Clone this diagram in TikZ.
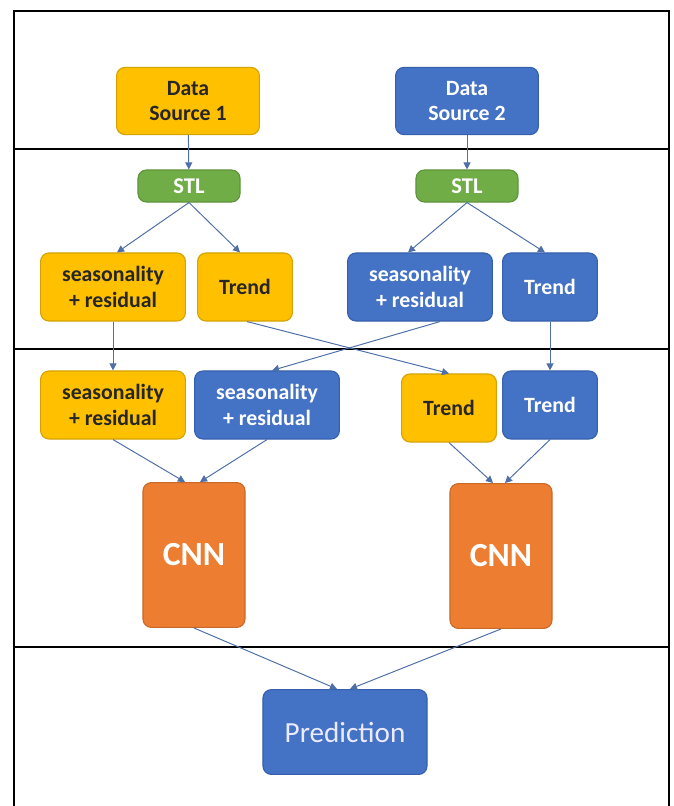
\documentclass[tikz,border=0pt]{standalone}
\usepackage{fontspec}
\setmainfont{Carlito}
\usepackage{tikz}
\usetikzlibrary{positioning, arrows.meta, calc}

\definecolor{gold}{HTML}{FFC000}
\definecolor{goldline}{HTML}{D4A300}
\definecolor{steel}{HTML}{4472C4}
\definecolor{steelline}{HTML}{3560AE}
\definecolor{leaf}{HTML}{70AD47}
\definecolor{rust}{HTML}{ED7D31}
\definecolor{wire}{HTML}{4F6FA8}

\begin{document}
\begin{tikzpicture}[x=0.025cm, y=-0.025cm,
                box/.style={rounded corners=6pt, align=center, inner sep=2pt, font=\bfseries\fontsize{15.5}{18}\selectfont, line width=0.8pt},
                yel/.style={box, fill=gold, draw=goldline, text=black!85},
                blu/.style={box, fill=steel, draw=steelline, text=white},
                stl/.style={box, fill=leaf, draw=leaf!85!black, text=white, minimum width=2.55cm, minimum height=0.8cm, font=\bfseries\fontsize{16}{18}\selectfont},
                cnn/.style={box, fill=rust, draw=rust!85!black, text=white, minimum width=2.55cm, minimum height=3.62cm, font=\bfseries\fontsize{24}{28}\selectfont},
                src/.style={minimum width=3.57cm, minimum height=1.68cm},
                seas/.style={minimum width=3.62cm, minimum height=1.7cm},
                trd/.style={minimum width=2.37cm, minimum height=1.7cm},
                arr/.style={-{Triangle[length=5pt, width=5pt]}, wire, line width=0.7pt},
            ]
            \useasboundingbox (0,0) rectangle (674,806);

            % Frame and dividers:
            \draw[line width=1.4pt] (14,806) -- (14,11) -- (669,11) -- (669,806);
            \foreach \yy in {149, 349, 647}
                \draw[line width=1pt] (14,\yy) -- (669,\yy);

            % Sources and decomposition:
            \node[yel, src] (ds1) at (188,101) {Data\\Source 1};
            \node[blu, src] (ds2) at (467,101) {Data\\Source 2};
            \node[stl] (stl1) at (189,186) {STL};
            \node[stl] (stl2) at (467,186) {STL};

            % First row of components:
            \node[yel, seas] (sy1) at (113,287) {seasonality\\+ residual};
            \node[yel, trd]  (ty1) at (245,287) {Trend};
            \node[blu, seas] (sb1) at (420,287) {seasonality\\+ residual};
            \node[blu, trd]  (tb1) at (550,287) {Trend};

            % Second row, regrouped by component:
            \node[yel, seas] (sy2) at (113,405) {seasonality\\+ residual};
            \node[blu, seas] (sb2) at (267,405) {seasonality\\+ residual};
            \node[yel, trd]  (ty2) at (449,408) {Trend};
            \node[blu, trd]  (tb2) at (550,405) {Trend};

            % Networks and output:
            \node[cnn] (cnn1) at (194,555) {CNN};
            \node[cnn] (cnn2) at (501,556) {CNN};
            \node[box, fill=steel, draw=steelline, text=white!92!blue, font=\huge, minimum width=4.1cm, minimum height=2.12cm] (pred) at (345,732) {Prediction};

            % Arrows:
            \draw[arr] (ds1) -- (stl1);
            \draw[arr] (ds2) -- (stl2);
            \draw[arr] (stl1.south) -- ($(sy1.north)+(4,0)$);
            \draw[arr] (stl1.south) -- ($(ty1.north)+(-5,0)$);
            \draw[arr] (stl2.south) -- ($(sb1.north)+(-12,0)$);
            \draw[arr] (stl2.south) -- ($(tb1.north)+(-5,0)$);
            \draw[arr] (sy1) -- (sy2);
            \draw[arr] (tb1) -- (tb2);
            \draw[arr] ($(ty1.south)+(2,0)$) -- (ty2.north);
            \draw[arr] ($(sb1.south)+(20,0)$) -- ($(sb2.north)+(5,0)$);
            \draw[arr] (sy2.south) -- ($(cnn1.north)+(-9,0)$);
            \draw[arr] (sb2.south) -- ($(cnn1.north)+(6,0)$);
            \draw[arr] (ty2.south) -- ($(cnn2.north)+(-8,0)$);
            \draw[arr] (tb2.south) -- ($(cnn2.north)+(4,0)$);
            \draw[arr] (cnn1.south) -- ($(pred.north)+(-8,0)$);
            \draw[arr] (cnn2.south) -- ($(pred.north)+(5,0)$);
        \end{tikzpicture}
\end{document}
